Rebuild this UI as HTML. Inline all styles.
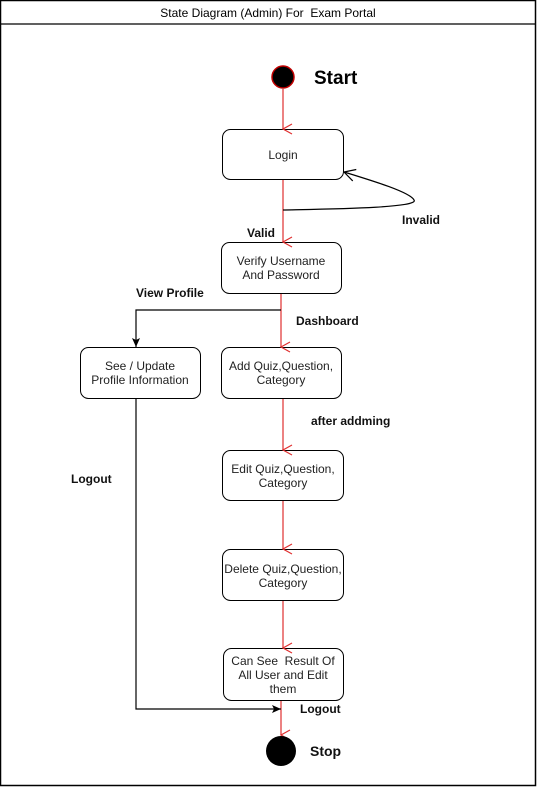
<!DOCTYPE html>
<html><head><meta charset="utf-8"><style>
html,body{margin:0;padding:0;background:#fff;}
svg{display:block;}
text{font-family:"Liberation Sans",Arial,sans-serif;}
.pre{white-space:pre;}
</style></head><body>
<svg width="537" height="787" viewBox="0 0 537 787" xmlns="http://www.w3.org/2000/svg">
<defs>
<marker id="ro" markerWidth="12" markerHeight="12" refX="6" refY="10" orient="auto" markerUnits="userSpaceOnUse"><path d="M1,1 L6,10 L11,1" fill="none" stroke="#e03030" stroke-width="1.2"/></marker>
<marker id="bo" markerWidth="14" markerHeight="14" refX="12" refY="7" orient="auto" markerUnits="userSpaceOnUse"><path d="M1,1 L12,7 L1,13" fill="none" stroke="#000" stroke-width="1.2"/></marker>
<marker id="bf" markerWidth="10" markerHeight="10" refX="9" refY="5" orient="auto" markerUnits="userSpaceOnUse"><path d="M0,1 L9,5 L0,9 L2,5 Z" fill="#000"/></marker>
</defs>
<rect x="0.5" y="0.5" width="535" height="785" fill="#fff" stroke="#000" stroke-width="1.5"/>
<line x1="0" y1="24" x2="536" y2="24" stroke="#000" stroke-width="1.2"/>
<text class="pre" xml:space="preserve" x="268" y="17" font-size="12" text-anchor="middle">State Diagram (Admin) For  Exam Portal</text>

<circle cx="283" cy="77" r="11" fill="#000" stroke="#c00000" stroke-width="1.5"/>
<text x="314" y="84" font-size="19" font-weight="bold">Start</text>

<g fill="#fff" stroke="#000" stroke-width="1">
<rect x="222.5" y="129.5" width="121" height="50" rx="8"/>
<rect x="221.5" y="242.5" width="120" height="51" rx="8"/>
<rect x="80.5" y="347.5" width="120" height="51" rx="8"/>
<rect x="221.5" y="347.5" width="120" height="51" rx="8"/>
<rect x="222.5" y="450.5" width="121" height="50" rx="8"/>
<rect x="222.5" y="549.5" width="121" height="51" rx="8"/>
<rect x="223.5" y="648.5" width="120" height="52" rx="8"/>
</g>
<g font-size="12" text-anchor="middle" fill="#222">
<text x="283" y="159">Login</text>
<text x="281" y="265">Verify Username</text>
<text x="281" y="279">And Password</text>
<text x="140" y="370">See / Update</text>
<text x="140" y="384">Profile Information</text>
<text x="281" y="370">Add Quiz,Question,</text>
<text x="281" y="384">Category</text>
<text x="283" y="473">Edit Quiz,Question,</text>
<text x="283" y="487">Category</text>
<text x="283" y="573">Delete Quiz,Question,</text>
<text x="283" y="587">Category</text>
<text class="pre" xml:space="preserve" x="283" y="665">Can See  Result Of</text>
<text x="283" y="679">All User and Edit</text>
<text x="283" y="693">them</text>
</g>

<g stroke="#e03030" stroke-width="1.2" fill="none">
<line x1="283" y1="89" x2="283" y2="129" marker-end="url(#ro)"/>
<line x1="283" y1="180" x2="283" y2="242" marker-end="url(#ro)"/>
<line x1="281" y1="294" x2="281" y2="347" marker-end="url(#ro)"/>
<line x1="283" y1="399" x2="283" y2="450" marker-end="url(#ro)"/>
<line x1="283" y1="501" x2="283" y2="549" marker-end="url(#ro)"/>
<line x1="283" y1="601" x2="283" y2="648" marker-end="url(#ro)"/>
<line x1="281" y1="701" x2="281" y2="735" marker-end="url(#ro)"/>
</g>
<g stroke="#000" stroke-width="1.2" fill="none">
<path d="M283,210 C330,209 420,208 414,200 C410,192 370,180 344,172" marker-end="url(#bo)"/>
<path d="M281,310 L136,310 L136,347" marker-end="url(#bf)"/>
<path d="M136,399 L136,709 L281,709" marker-end="url(#bf)"/>
</g>

<circle cx="281" cy="751" r="15" fill="#000"/>
<g font-size="12" font-weight="bold" fill="#111">
<text x="402" y="224">Invalid</text>
<text x="247" y="237">Valid</text>
<text x="136" y="297">View Profile</text>
<text x="296" y="325">Dashboard</text>
<text x="311" y="425">after addming</text>
<text x="71" y="483">Logout</text>
<text x="300" y="713">Logout</text>
<text x="310" y="756" font-size="14">Stop</text>
</g>
</svg>
</body></html>
